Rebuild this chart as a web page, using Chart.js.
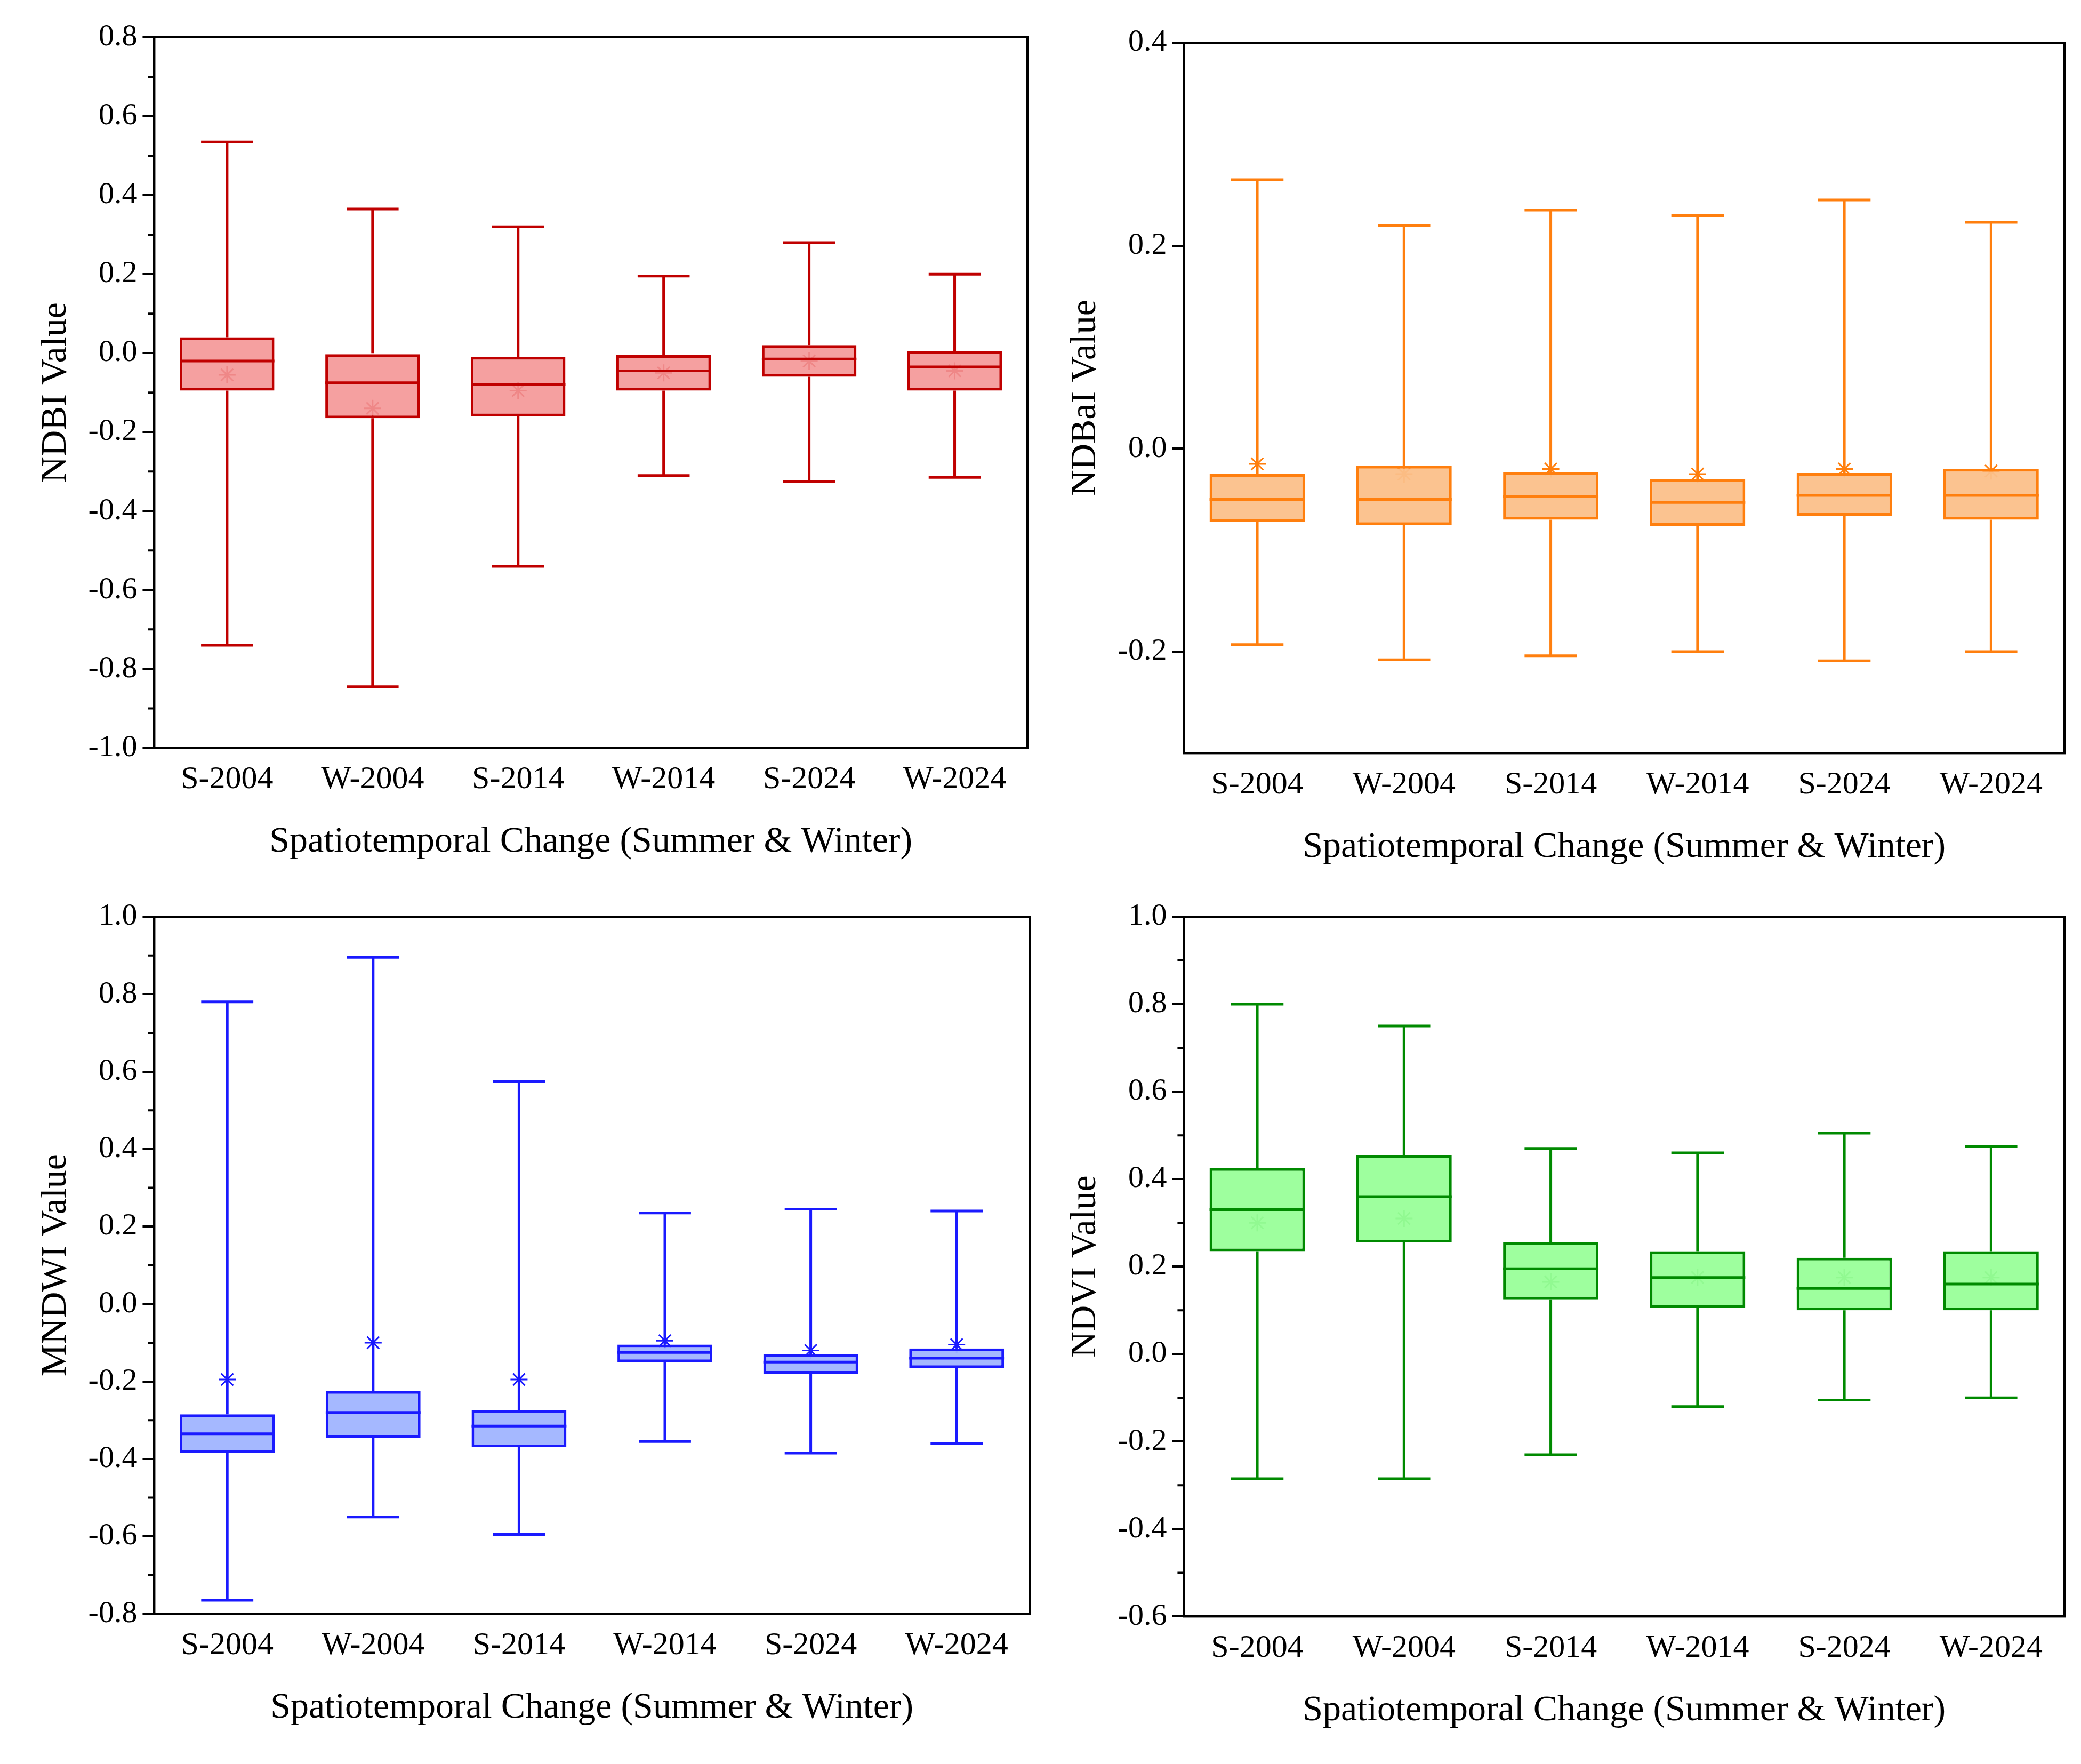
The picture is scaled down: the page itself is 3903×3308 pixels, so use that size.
<!DOCTYPE html>
<html><head><meta charset="utf-8">
<script src="https://cdn.jsdelivr.net/npm/chart.js@4"></script>
<style>
body{margin:0;background:#fff;}
.cell{position:absolute;width:1951px;height:1654px;}
</style></head><body>
<div class="cell" style="left:0;top:0"><canvas id="c1"></canvas></div>
<div class="cell" style="left:1951px;top:0"><canvas id="c2"></canvas></div>
<div class="cell" style="left:0;top:1654px"><canvas id="c3"></canvas></div>
<div class="cell" style="left:1951px;top:1654px"><canvas id="c4"></canvas></div>
<script>
const categories = ['S-2004', 'W-2004', 'S-2014', 'W-2014', 'S-2024', 'W-2024'];

// each: [min, q1, median, q3, max], mean separately
const ndbiBox = [[-0.74,-0.095,-0.02,0.04,0.535],[-0.845,-0.165,-0.075,0.0,0.365],[-0.54,-0.16,-0.08,-0.01,0.32],
  [-0.31,-0.095,-0.045,-0.005,0.195],[-0.325,-0.06,-0.015,0.02,0.28],[-0.315,-0.095,-0.035,0.005,0.2]];
const ndbiMean = [-0.055,-0.14,-0.095,-0.05,-0.02,-0.045];

const ndbaiBox = [[-0.193,-0.072,-0.05,-0.025,0.265],[-0.208,-0.075,-0.05,-0.017,0.22],[-0.204,-0.07,-0.047,-0.023,0.235],
  [-0.2,-0.076,-0.053,-0.03,0.23],[-0.209,-0.066,-0.046,-0.024,0.245],[-0.2,-0.07,-0.046,-0.02,0.223]];
const ndbaiMean = [-0.015,-0.025,-0.02,-0.025,-0.02,-0.022];

const mndwiBox = [[-0.765,-0.385,-0.335,-0.285,0.78],[-0.55,-0.345,-0.28,-0.225,0.895],[-0.595,-0.37,-0.315,-0.275,0.575],
  [-0.355,-0.15,-0.125,-0.105,0.235],[-0.385,-0.18,-0.15,-0.13,0.245],[-0.36,-0.165,-0.14,-0.115,0.24]];
const mndwiMean = [-0.195,-0.1,-0.195,-0.095,-0.12,-0.105];

const ndviBox = [[-0.285,0.235,0.33,0.425,0.8],[-0.285,0.255,0.36,0.455,0.75],[-0.23,0.125,0.195,0.255,0.47],
  [-0.12,0.105,0.175,0.235,0.46],[-0.105,0.1,0.15,0.22,0.505],[-0.1,0.1,0.16,0.235,0.475]];
const ndviMean = [0.3,0.31,0.165,0.175,0.175,0.175];

const FONT = 'Liberation Serif';

const boxPlugin = {
  id: 'boxParts',
  afterDatasetsDraw(chart) {
    const o = chart.options.plugins.boxParts;
    const ctx = chart.ctx, x = chart.scales.x, y = chart.scales.y;
    const meta = chart.getDatasetMeta(0);
    ctx.save();
    ctx.strokeStyle = o.color; ctx.lineWidth = 5;
    o.box.forEach((b, i) => {
      const bar = meta.data[i];
      const cx = bar.x, hw = bar.width / 2, cap = hw * 0.55;
      const px = v => y.getPixelForValue(v);
      ctx.beginPath();
      ctx.moveTo(cx, px(b[3])); ctx.lineTo(cx, px(b[4]));
      ctx.moveTo(cx - cap, px(b[4])); ctx.lineTo(cx + cap, px(b[4]));
      ctx.moveTo(cx, px(b[1])); ctx.lineTo(cx, px(b[0]));
      ctx.moveTo(cx - cap, px(b[0])); ctx.lineTo(cx + cap, px(b[0]));
      ctx.moveTo(cx - hw, px(b[2])); ctx.lineTo(cx + hw, px(b[2]));
      ctx.stroke();
    });
    // frame
    const a = chart.chartArea;
    ctx.strokeStyle = '#000'; ctx.lineWidth = 4;
    ctx.strokeRect(a.left, a.top, a.right - a.left, a.bottom - a.top);
    // minor ticks
    if (o.minor) {
      const t = y.ticks;
      ctx.beginPath();
      for (let i = 0; i < t.length - 1; i++) {
        const m = y.getPixelForValue((t[i].value + t[i + 1].value) / 2);
        ctx.moveTo(a.left, m); ctx.lineTo(a.left - 12, m);
      }
      ctx.stroke();
    }
    ctx.restore();
  }
};

function makeChart(id, box, mean, color, fill, title, yMin, yMax, ticks, minor, pad) {
  new Chart(document.getElementById(id), {
    type: 'bar',
    data: {
      labels: categories,
      datasets: [{
        data: box.map(b => [b[1], b[3]]),
        backgroundColor: fill, borderColor: color, borderWidth: 5, borderSkipped: false,
        barPercentage: 0.65, categoryPercentage: 1
      }, {
        type: 'line', data: mean, showLine: false,
        pointStyle: 'star', pointRadius: 16, borderColor: color, borderWidth: 3, backgroundColor: color
      }]
    },
    options: {
      responsive: true, maintainAspectRatio: false, animation: false,
      devicePixelRatio: 1,
      layout: { padding: pad },
      plugins: { legend: { display: false }, tooltip: { enabled: false },
        boxParts: { box, color, minor } },
      scales: {
        x: {
          grid: { display: false, drawTicks: true, tickLength: 14, color: '#000', lineWidth: 4 },
          border: { display: true, color: '#000', width: 4 },
          ticks: { color: '#000', font: { family: FONT, size: 60 }, padding: 10 },
          title: { display: true, text: 'Spatiotemporal Change (Summer & Winter)', color: '#000',
            font: { family: FONT, size: 68 }, padding: { top: 30 } }
        },
        y: {
          min: yMin, max: yMax,
          afterBuildTicks: s => { s.ticks = ticks.map(v => ({ value: v })); },
          grid: { display: true, drawOnChartArea: false, tickLength: 22, color: '#000', lineWidth: 4 },
          border: { display: true, color: '#000', width: 4 },
          ticks: { color: '#000', font: { family: FONT, size: 58 }, padding: 10,
            callback: v => (Math.abs(v) < 1e-9 ? 0 : v).toFixed(1) },
          title: { display: true, text: title, color: '#000', font: { family: FONT, size: 68 }, padding: { bottom: 10 } }
        }
      }
    },
    plugins: [boxPlugin]
  });
}

const t1 = [-1.0,-0.8,-0.6,-0.4,-0.2,0,0.2,0.4,0.6,0.8];
const t2 = [-0.2,0,0.2,0.4];
const t3 = [-0.8,-0.6,-0.4,-0.2,0,0.2,0.4,0.6,0.8,1.0];
const t4 = [-0.6,-0.4,-0.2,0,0.2,0.4,0.6,0.8,1.0];

makeChart('c1', ndbiBox, ndbiMean, '#c00000', 'rgba(244,150,150,0.9)', 'NDBI Value', -1.0, 0.8, t1, true,
  { left: 60, top: 70, right: 24, bottom: 30 });
makeChart('c2', ndbaiBox, ndbaiMean, '#ff7f0e', 'rgba(251,192,138,0.95)', 'NDBaI Value', -0.3, 0.4, t2, false,
  { left: 40, top: 80, right: 30, bottom: 20 });
makeChart('c3', mndwiBox, mndwiMean, '#1a1aff', 'rgba(160,180,255,0.95)', 'MNDWI Value', -0.8, 1.0, t3, true,
  { left: 60, top: 65, right: 20, bottom: 60 });
makeChart('c4', ndviBox, ndviMean, '#008a00', 'rgba(153,255,153,0.95)', 'NDVI Value', -0.6, 1.0, t4, true,
  { left: 40, top: 65, right: 30, bottom: 55 });
</script>
</body></html>
